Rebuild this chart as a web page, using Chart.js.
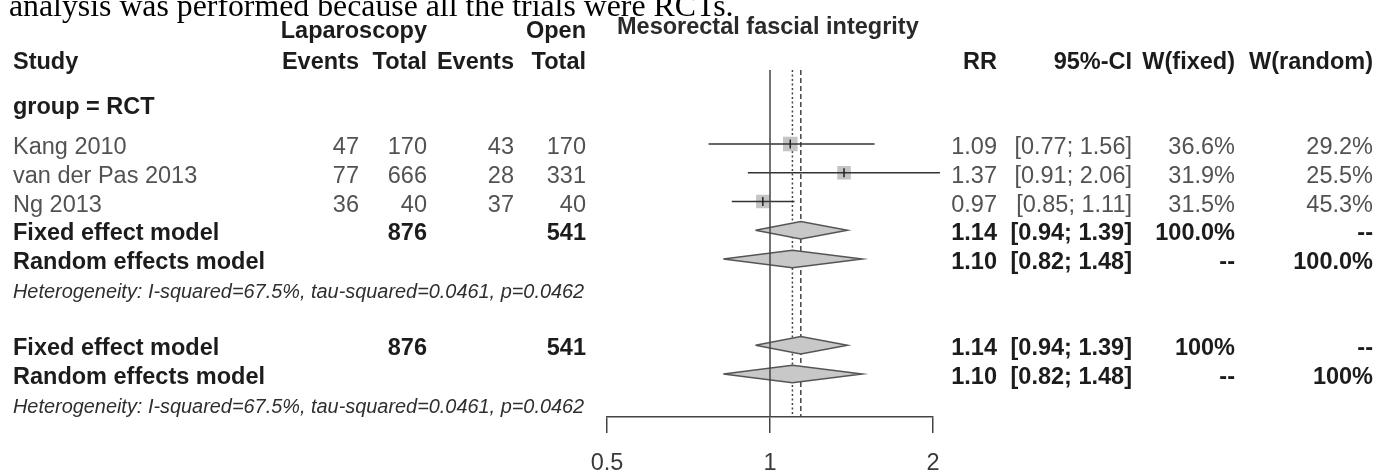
<!DOCTYPE html>
<html>
<head>
<meta charset="utf-8">
<script src="https://cdn.jsdelivr.net/npm/chart.js@4.4.1/dist/chart.umd.min.js"></script>
<style>
  html, body { margin: 0; padding: 0; background: #fff; }
  canvas { display: block; }
</style>
</head>
<body>
<canvas id="forest" width="1377" height="472"></canvas>
<script>
// ─── Data ──────────────────────────────────────────────────────────────────
const studies    = ["Kang 2010", "van der Pas 2013", "Ng 2013"];
const lapEvents  = [47, 77, 36];
const lapTotal   = [170, 666, 40];
const openEvents = [43, 28, 37];
const openTotal  = [170, 331, 40];
const rr         = [1.09, 1.37, 0.97];
const ciLower    = [0.77, 0.91, 0.85];
const ciUpper    = [1.56, 2.06, 1.11];
const wFixed     = [36.6, 31.9, 31.5];
const wRandom    = [29.2, 25.5, 45.3];

const summaryLabels = ["Fixed effect model", "Random effects model"];
const summaryRR     = [1.14, 1.10];
const summaryLower  = [0.94, 0.82];
const summaryUpper  = [1.39, 1.48];
const lapTotalSum   = 876;
const openTotalSum  = 541;
const hetText  = "Heterogeneity: I-squared=67.5%, tau-squared=0.0461, p=0.0462";
const caption  = "analysis was performed because all the trials were RCTs.";
const xTicks   = [0.5, 1, 2];

// ─── Layout ────────────────────────────────────────────────────────────────
const ROW_H = 28.75, FIRST_ROW = 144, PLOT_TOP = 70, PLOT_BOTTOM = 417;
const Y_MIN = (PLOT_TOP - FIRST_ROW) / ROW_H;
const Y_MAX = (PLOT_BOTTOM - FIRST_ROW) / ROW_H;
const ROWS = { title: -4.17, head1: -4.02, head2: -2.97, group: -1.39,
               fixed: 3, random: 4, het: 5, allFixed: 7, allRandom: 8, allHet: 9 };
const COL = { study: 13, lapEv: 359, lapTot: 427, openEv: 514, openTot: 586,
              title: 617, rr: 997, ci: 1132, wf: 1235, wr: 1373 };
const SANS = "'Liberation Sans', Arial, sans-serif";
const REG = "23.5px " + SANS, BOLD = "bold 23.5px " + SANS;
const GREY = "#525252", DARK = "#1c1c1c";

const fmtCI = (lo, hi) => `[${lo.toFixed(2)}; ${hi.toFixed(2)}]`;

// vertical reference line spanning the plot
function vline(x, dash, order) {
  return {
    data: [{ x, y: Y_MIN }, { x, y: Y_MAX }],
    borderColor: "#444", borderWidth: 1.5, borderDash: dash,
    pointRadius: 0, fill: false, order,
  };
}

function diamond(est, lo, hi, row) {
  const h = 0.3;
  return {
    data: [{ x: lo, y: row }, { x: est, y: row - h }, { x: hi, y: row },
           { x: est, y: row + h }, { x: lo, y: row }],
    borderColor: "#555", borderWidth: 1.5, backgroundColor: "#c8c8c8",
    fill: "shape", pointRadius: 0, tension: 0, order: 4,
  };
}

const datasets = [
  vline(1, [], 1),
  vline(summaryRR[0], [5, 3], 6),
  vline(summaryRR[1], [2, 2.5], 6),
  {
    // study squares, area ~ fixed weight
    data: rr.map((v, i) => ({ x: v, y: i })),
    showLine: false, pointStyle: "rect",
    pointRadius: wFixed.map(w => Math.sqrt(w) * 1.7),
    pointBackgroundColor: "#c4c4c4", pointBorderWidth: 0, order: 5,
  },
  {
    // point estimate marks
    data: rr.map((v, i) => ({ x: v, y: i })),
    showLine: false, pointStyle: "line", pointRotation: 90, pointRadius: 4.5,
    pointBorderColor: "#222", pointBorderWidth: 1.5, order: 2,
  },
  ...studies.map((s, i) => ({
    data: [{ x: ciLower[i], y: i }, { x: ciUpper[i], y: i }],
    borderColor: "#333", borderWidth: 1.5, pointRadius: 0, clip: false, order: 3,
  })),
  diamond(summaryRR[0], summaryLower[0], summaryUpper[0], ROWS.fixed),
  diamond(summaryRR[1], summaryLower[1], summaryUpper[1], ROWS.random),
  diamond(summaryRR[0], summaryLower[0], summaryUpper[0], ROWS.allFixed),
  diamond(summaryRR[1], summaryLower[1], summaryUpper[1], ROWS.allRandom),
];

// ─── Table text around the plot ────────────────────────────────────────────
const tablePlugin = {
  id: "forestTable",
  afterDraw(chart) {
    const ctx = chart.ctx;
    const yScale = chart.scales.y;
    const base = r => yScale.getPixelForValue(r) + 10;
    const put = (s, x, r, align, font, color) => {
      ctx.font = font; ctx.fillStyle = color; ctx.textAlign = align;
      ctx.fillText(s, x, base(r));
    };
    ctx.save();
    ctx.textBaseline = "alphabetic";

    // caption line cut off at the top edge
    ctx.font = "31.8px 'Liberation Serif', 'Times New Roman', serif";
    ctx.fillStyle = "#000"; ctx.textAlign = "left";
    ctx.fillText(caption, 9, 16);

    // headers
    put("Mesorectal fascial integrity", COL.title, ROWS.title, "left", BOLD, "#2a2a2a");
    put("Laparoscopy", COL.lapTot, ROWS.head1, "right", BOLD, DARK);
    put("Open", COL.openTot, ROWS.head1, "right", BOLD, DARK);
    put("Study", COL.study, ROWS.head2, "left", BOLD, DARK);
    put("Events", COL.lapEv, ROWS.head2, "right", BOLD, DARK);
    put("Total", COL.lapTot, ROWS.head2, "right", BOLD, DARK);
    put("Events", COL.openEv, ROWS.head2, "right", BOLD, DARK);
    put("Total", COL.openTot, ROWS.head2, "right", BOLD, DARK);
    put("RR", COL.rr, ROWS.head2, "right", BOLD, DARK);
    put("95%-CI", COL.ci, ROWS.head2, "right", BOLD, DARK);
    put("W(fixed)", COL.wf, ROWS.head2, "right", BOLD, DARK);
    put("W(random)", COL.wr, ROWS.head2, "right", BOLD, DARK);
    put("group = RCT", COL.study, ROWS.group, "left", BOLD, DARK);

    // study rows
    studies.forEach((s, i) => {
      put(s, COL.study, i, "left", REG, GREY);
      put(String(lapEvents[i]), COL.lapEv, i, "right", REG, GREY);
      put(String(lapTotal[i]), COL.lapTot, i, "right", REG, GREY);
      put(String(openEvents[i]), COL.openEv, i, "right", REG, GREY);
      put(String(openTotal[i]), COL.openTot, i, "right", REG, GREY);
      put(rr[i].toFixed(2), COL.rr, i, "right", REG, GREY);
      put(fmtCI(ciLower[i], ciUpper[i]), COL.ci, i, "right", REG, GREY);
      put(wFixed[i].toFixed(1) + "%", COL.wf, i, "right", REG, GREY);
      put(wRandom[i].toFixed(1) + "%", COL.wr, i, "right", REG, GREY);
    });

    // summary blocks: subgroup (100.0%) and overall (100%)
    const blocks = [
      { rows: [ROWS.fixed, ROWS.random], het: ROWS.het, full: "100.0%" },
      { rows: [ROWS.allFixed, ROWS.allRandom], het: ROWS.allHet, full: "100%" },
    ];
    blocks.forEach(b => {
      b.rows.forEach((r, k) => {
        put(summaryLabels[k], COL.study, r, "left", BOLD, DARK);
        if (k === 0) {
          put(String(lapTotalSum), COL.lapTot, r, "right", BOLD, DARK);
          put(String(openTotalSum), COL.openTot, r, "right", BOLD, DARK);
        }
        put(summaryRR[k].toFixed(2), COL.rr, r, "right", BOLD, DARK);
        put(fmtCI(summaryLower[k], summaryUpper[k]), COL.ci, r, "right", BOLD, DARK);
        put(k === 0 ? b.full : "--", COL.wf, r, "right", BOLD, DARK);
        put(k === 1 ? b.full : "--", COL.wr, r, "right", BOLD, DARK);
      });
      put(hetText, COL.study, b.het, "left", "italic 19.9px " + SANS, "#2e2e2e");
    });
    ctx.restore();
  },
};

new Chart(document.getElementById("forest"), {
  type: "line",
  data: { datasets },
  plugins: [tablePlugin],
  options: {
    responsive: false,
    animation: false,
    events: [],
    layout: { padding: { left: 607, right: 444, top: PLOT_TOP, bottom: 0 } },
    plugins: { legend: { display: false }, tooltip: { enabled: false } },
    scales: {
      x: {
        type: "logarithmic",
        min: 0.5, max: 2, bounds: "data",
        afterBuildTicks: s => { s.ticks = xTicks.map(v => ({ value: v })); },
        afterFit: s => { s.height = 472 - PLOT_BOTTOM; },
        ticks: {
          callback: v => String(v), autoSkip: false, maxRotation: 0,
          color: "#3a3a3a", font: { size: 23.5, family: SANS }, padding: 16,
        },
        grid: { drawOnChartArea: false, drawTicks: true, tickLength: 16,
                color: "#444", lineWidth: 1.5 },
        border: { display: true, color: "#444", width: 1.5 },
      },
      y: { type: "linear", reverse: true, min: Y_MIN, max: Y_MAX, display: false },
    },
  },
});
</script>
</body>
</html>
